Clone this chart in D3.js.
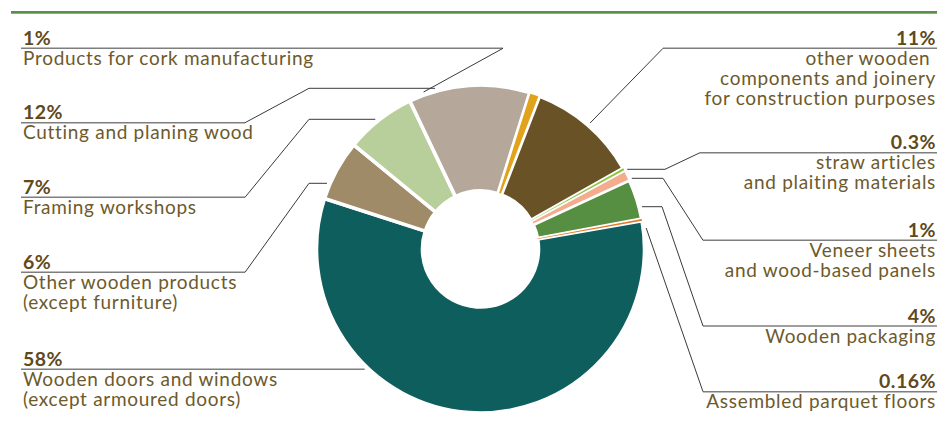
<!DOCTYPE html>
<html>
<head>
<meta charset="utf-8">
<script src="https://cdn.jsdelivr.net/npm/d3@7"></script>
<style>
  body { margin: 0; background: #fff; }
  svg { display: block; }
  text { font-family: Lato, "Open Sans", sans-serif; white-space: pre; }
</style>
</head>
<body>
<svg id="chart" width="937" height="422"></svg>
<script>
// Sub-sectors of the wood industry, clockwise from the top of the ring
const categories = [
  "Products for cork manufacturing",
  "other wooden \ncomponents and joinery\nfor construction purposes",
  "straw articles\nand plaiting materials",
  "Veneer sheets\nand wood-based panels",
  "Wooden packaging",
  "Assembled parquet floors",
  "Wooden doors and windows\n(except armoured doors)",
  "Other wooden products\n(except furniture)",
  "Framing workshops",
  "Cutting and planing wood"
];
const shares = [1, 11, 0.3, 1, 4, 0.16, 58, 6, 7, 12];
const shareLabels = ["1%", "11%", "0.3%", "1%", "4%", "0.16%", "58%", "6%", "7%", "12%"];
const sliceColors = ["#e1a21c", "#695226", "#8cc53f", "#f3ac8e", "#578f42",
                     "#e07a2b", "#0f5e5e", "#a08b69", "#b8cf9b", "#b5a89b"];

// Label placement: underline height, where the underline stops, optional elbow, and
// the height at which the leader meets the ring
const labelLayout = [
  { side: "left",  y: 48.3,  lineEnd: 503, elbowX: null, hookY: 92 },
  { side: "right", y: 48.3,  lineEnd: 663, elbowX: null, hookY: 123 },
  { side: "right", y: 152.7, lineEnd: 700, elbowX: 665,  hookY: 169.3 },
  { side: "right", y: 240.3, lineEnd: 703, elbowX: 663,  hookY: 178.3 },
  { side: "right", y: 326,   lineEnd: 703, elbowX: 662,  hookY: 206.7 },
  { side: "right", y: 391.7, lineEnd: 703, elbowX: null, hookY: 228 },
  { side: "left",  y: 369.3, lineEnd: null, elbowX: null, hookY: 369.3 },
  { side: "left",  y: 272.3, lineEnd: 245, elbowX: 309,  hookY: 183.3 },
  { side: "left",  y: 197.3, lineEnd: 245, elbowX: 309,  hookY: 119.3 },
  { side: "left",  y: 122.7, lineEnd: 245, elbowX: 309,  hookY: 88.3 }
];

const W = 937, H = 422;
const cx = 480.5, cy = 249, outerR = 164, innerR = 58;
const leaderR = outerR + 3;
const textColor = "#6d5a2c", pctColor = "#5f4a1d";

const svg = d3.select("#chart");

// header rule
svg.append("rect").attr("x", 11).attr("y", 11).attr("width", W - 11).attr("height", 2.7)
  .attr("fill", "#5a8f47");

const data = shares.map((v, i) => ({ i, value: v, name: categories[i], pct: shareLabels[i], color: sliceColors[i] }));

const start = 17.5 * Math.PI / 180;
const pie = d3.pie().sort(null).value(d => d.value).startAngle(start).endAngle(start + 2 * Math.PI);
const arcs = pie(data);
const arc = d3.arc().innerRadius(innerR).outerRadius(outerR);

const ring = svg.append("g").attr("transform", `translate(${cx},${cy})`);
const big = arcs.filter(a => a.data.value >= 2);
const small = arcs.filter(a => a.data.value < 2);

ring.selectAll("path.big").data(big).join("path")
  .attr("class", "big")
  .attr("d", arc)
  .attr("fill", d => d.data.color)
  .attr("stroke", "#fff").attr("stroke-width", 3.6).attr("stroke-linejoin", "round");

ring.selectAll("path.small").data(small).join("path")
  .attr("class", "small")
  .attr("d", arc)
  .attr("fill", d => d.data.color)
  .attr("stroke", "#fff")
  .attr("stroke-width", d => d.data.value < 0.5 ? 2.2 : 1.8)
  .style("paint-order", d => d.data.value < 0.5 ? "stroke" : "normal");

// leaders and labels
const ringX = (side, y) => cx + (side === "left" ? -1 : 1) * Math.sqrt(leaderR * leaderR - (y - cy) * (y - cy));

const labels = svg.append("g");
data.forEach((d, i) => {
  const L = labelLayout[i];
  const left = L.side === "left";
  const edge = left ? 21 : W;
  const hookX = ringX(L.side, L.hookY);
  const lineEnd = L.lineEnd == null ? hookX : L.lineEnd;

  labels.append("line")
    .attr("x1", edge).attr("x2", lineEnd).attr("y1", L.y).attr("y2", L.y)
    .attr("stroke", "#7e7e7e").attr("stroke-width", 1.6);

  if (L.lineEnd != null) {
    const pts = [[lineEnd, L.y]];
    if (L.elbowX != null) pts.push([L.elbowX, L.hookY]);
    pts.push([hookX, L.hookY]);
    labels.append("path")
      .attr("d", d3.line()(pts))
      .attr("fill", "none").attr("stroke", "#3a3a3a").attr("stroke-width", 1);
  }

  const tx = left ? 23 : 936;
  const anchor = left ? "start" : "end";
  labels.append("text")
    .attr("x", tx).attr("y", L.y - 3.5)
    .attr("text-anchor", anchor)
    .attr("font-size", 19.5).attr("font-weight", 700)
    .attr("letter-spacing", 0.5)
    .attr("fill", pctColor)
    .text(d.pct);

  const t = labels.append("text")
    .attr("text-anchor", anchor)
    .attr("font-size", 19)
    .attr("letter-spacing", 0.7)
    .attr("fill", textColor);
  d.name.split("\n").forEach((line, k) => {
    t.append("tspan").attr("x", tx).attr("y", L.y + 16.5 + k * 20).text(line);
  });
});
</script>
</body>
</html>
